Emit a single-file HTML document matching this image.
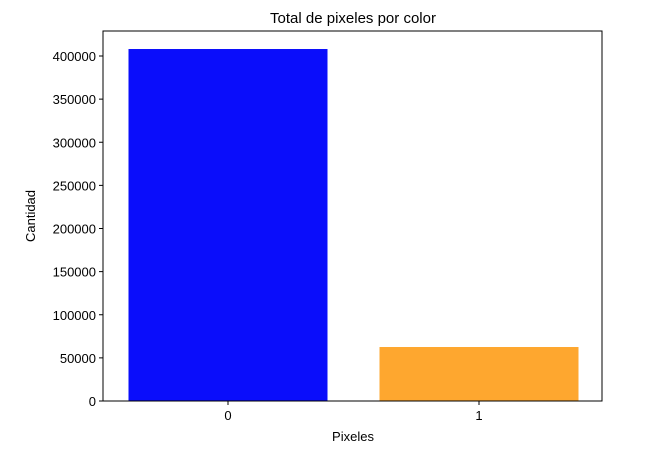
<!DOCTYPE html>
<html><head><meta charset="utf-8"><style>
body{margin:0;background:#fff;}
svg text{font-family:"Liberation Sans","DejaVu Sans",sans-serif;fill:#000;}
</style></head><body>
<svg id="chart" width="648" height="453" xmlns="http://www.w3.org/2000/svg">
<rect width="648" height="453" fill="#fff"/>
<text x="353" y="23" font-size="15" text-anchor="middle">Total de pixeles por color</text>
<text x="353" y="441" font-size="13" text-anchor="middle">Pixeles</text>
<text transform="translate(35,216) rotate(-90)" font-size="13" text-anchor="middle">Cantidad</text>
<g id="bars"></g><g id="ticks"></g>
<rect x="103" y="31" width="499" height="370" fill="none" stroke="#000" stroke-width="1"/>
</svg>
<script>
const categories = ["0","1"];
const values = [408100, 62600];
const colors = ["#0a0dfb","#fea72f"];
const yTicks = [0,50000,100000,150000,200000,250000,300000,350000,400000];

const L=103,R=602,T=31,B=401;
const y = v => B - v*345/400000;
const x = i => 228 + 251*i;
const bw = 199;
const ns="http://www.w3.org/2000/svg";
const bars=document.getElementById('bars'), ticks=document.getElementById('ticks');
categories.forEach((c,i)=>{
  const r=document.createElementNS(ns,'rect');
  r.setAttribute('x',x(i)-bw/2);r.setAttribute('y',y(values[i]));
  r.setAttribute('width',bw);r.setAttribute('height',B-y(values[i]));
  r.setAttribute('fill',colors[i]);
  
  
  bars.appendChild(r);
  const l=document.createElementNS(ns,'line');
  l.setAttribute('x1',x(i));l.setAttribute('x2',x(i));l.setAttribute('y1',B);l.setAttribute('y2',B+4);l.setAttribute('stroke','#000');
  
  
  ticks.appendChild(l);
  const t=document.createElementNS(ns,'text');
  t.setAttribute('x',x(i));t.setAttribute('y',B+19);t.setAttribute('font-size','13');t.setAttribute('text-anchor','middle');
  t.textContent=c;
  
  
  ticks.appendChild(t);
});
yTicks.forEach(v=>{
  const l=document.createElementNS(ns,'line');
  l.setAttribute('x1',L-4);l.setAttribute('x2',L);l.setAttribute('y1',y(v));l.setAttribute('y2',y(v));l.setAttribute('stroke','#000');
  
  
  ticks.appendChild(l);
  const t=document.createElementNS(ns,'text');
  t.setAttribute('x',L-7);t.setAttribute('y',y(v)+5);t.setAttribute('font-size','13');t.setAttribute('text-anchor','end');
  t.textContent=v;
  
  
  ticks.appendChild(t);
});
</script>
</body></html>
